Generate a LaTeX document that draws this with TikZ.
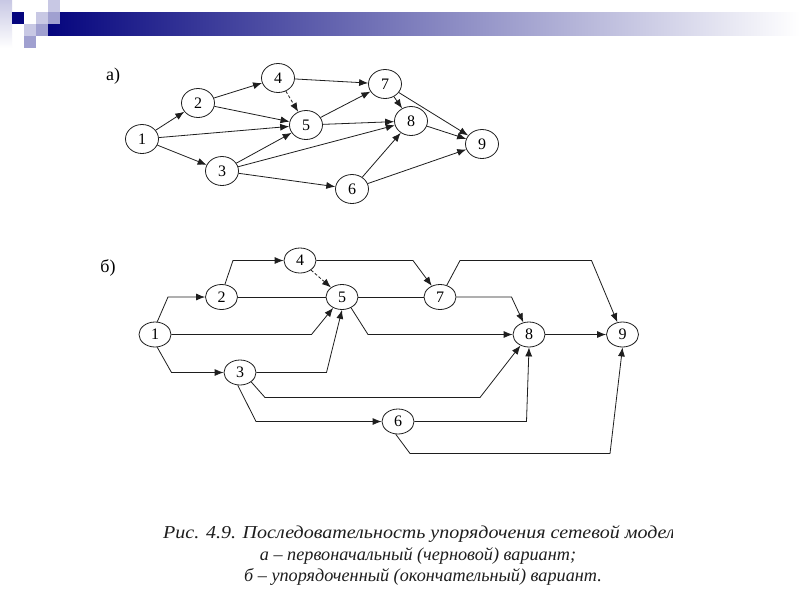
\documentclass[tikz,border=0pt]{standalone}
\usepackage{fontspec}
\usepackage{graphicx}
\setmainfont{Liberation Serif}
\usetikzlibrary{arrows.meta,shapes.geometric}
\definecolor{navyd}{HTML}{05057E}
\definecolor{lavl}{HTML}{C8C8E4}
\definecolor{lavm}{HTML}{A0A0D0}
\definecolor{ink}{HTML}{1E1E1E}
\tikzset{
  nodea/.style={ellipse,draw=ink,line width=0.8pt,minimum width=33pt,minimum height=29pt,inner sep=0pt,font=\fontsize{16}{16}\selectfont},
  nodeb/.style={ellipse,draw=ink,line width=0.8pt,minimum width=32pt,minimum height=25pt,inner sep=0pt,font=\fontsize{16}{16}\selectfont},
  arr/.style={draw=ink,line width=0.8pt,-{Latex[length=9pt,width=7pt]}},
  plainln/.style={draw=ink,line width=0.8pt},
  dasharr/.style={arr,dash pattern=on 3pt off 2pt},
  lbltxt/.style={font=\fontsize{18}{18}\selectfont,inner sep=0pt},
  captxt/.style={font=\itshape\fontsize{18.2}{18.2}\selectfont,inner sep=0pt,text=ink}
}
\begin{document}
\begin{tikzpicture}[x=1pt,y=-1pt]
\useasboundingbox (0,0) rectangle (800,600);
\fill[white] (0,0) rectangle (800,600);
% header
\shade[left color=navyd,right color=white] (48,12) rectangle (800,35);
\shade[top color=lavl,bottom color=white] (0,0) rectangle (12,48);
\fill[lavl] (48,0) rectangle (60,12);
\fill[navyd] (12,12) rectangle (24,24);
\fill[white] (24,12) rectangle (36,24);
\fill[lavl] (36,12) rectangle (48,24);
\fill[lavm] (48,12) rectangle (60,24);
\fill[lavl] (24,24) rectangle (36,36);
\fill[lavm] (36,24) rectangle (48,36);
\fill[lavm] (24,36) rectangle (36,48);

% ---------- graph a ----------
\node[lbltxt] (la) at (113,76) {а)};
\node[nodea] (a1) at (142,139) {1};
\node[nodea] (a2) at (198,103) {2};
\node[nodea] (a4) at (278,78) {4};
\node[nodea] (a5) at (306,125) {5};
\node[nodea] (a3) at (222,171) {3};
\node[nodea] (a7) at (385,84) {7};
\node[nodea] (a8) at (411,121) {8};
\node[nodea] (a9) at (482,144) {9};
\node[nodea] (a6) at (352,189) {6};
\draw[arr] (a1) -- (a2);
\draw[arr] (a1) -- (a5);
\draw[arr] (a1) -- (a3);
\draw[arr] (a2) -- (a4);
\draw[arr] (a2) -- (a5);
\draw[arr] (a4) -- (a7);
\draw[dasharr] (a4) -- (a5);
\draw[arr] (a3) -- (a5);
\draw[arr] (a3) -- (a8);
\draw[arr] (a3) -- (a6);
\draw[arr] (a5) -- (a7);
\draw[arr] (a5) -- (a8);
\draw[arr] (a7) -- (a8);
\draw[arr] (a7) -- (a9);
\draw[arr] (a8) -- (a9);
\draw[arr] (a6) -- (a8);
\draw[arr] (a6) -- (a9);

% ---------- graph b ----------
\node[lbltxt] (lb) at (108,268) {б)};
\node[nodeb] (b1) at (155,334.5) {1};
\node[nodeb] (b2) at (221.5,297) {2};
\node[nodeb] (b4) at (300,260.5) {4};
\node[nodeb] (b5) at (342,297) {5};
\node[nodeb] (b3) at (240,372.5) {3};
\node[nodeb] (b7) at (440,297) {7};
\node[nodeb] (b8) at (529,334.5) {8};
\node[nodeb] (b9) at (622.5,334.5) {9};
\node[nodeb] (b6) at (398,421.5) {6};
\draw[arr] (b1.80) -- (168,297) -- (b2);
\draw[arr] (b2.75) -- (233,260.5) -- (b4);
\draw[plainln] (b2) -- (b5);
\draw[plainln] (b5) -- (b7);
\draw[arr] (b1) -- (311.5,334.5) -- (b5);
\draw[dasharr] (b4) -- (b5);
\draw[arr] (b1.-80) -- (171.5,372.5) -- (b3);
\draw[arr] (b3) -- (326.5,372.5) -- (b5.south);
\draw[arr] (b3.-40) -- (265,397.5) -- (480,397.5) -- (b8);
\draw[arr] (b3.-100) -- (256,421.5) -- (b6);
\draw[arr] (b4) -- (413,260.5) -- (b7);
\draw[arr] (b7.60) -- (460,260.5) -- (591.5,260.5) -- (b9);
\draw[arr] (b5.-50) -- (368,334.5) -- (b8);
\draw[arr] (b7) -- (511.5,297) -- (b8);
\draw[arr] (b8) -- (b9);
\draw[arr] (b6) -- (526.5,421.5) -- (b8.south);
\draw[arr] (b6.-100) -- (410,453.5) -- (610,453.5) -- (b9.south);

% ---------- caption ----------
\begin{scope}
\clip (0,500) rectangle (672,600);
\node[captxt,anchor=base west] (c1) at (163,538) {\scalebox{1.1}[1]{Рис. 4.9. Последовательность упорядочения сетевой модели}};
\end{scope}
\node[captxt,anchor=base] (c2) at (418,560) {а – первоначальный (черновой) вариант;};
\node[captxt,anchor=base] (c3) at (423,581) {б – упорядоченный (окончательный) вариант.};
\end{tikzpicture}
\end{document}
